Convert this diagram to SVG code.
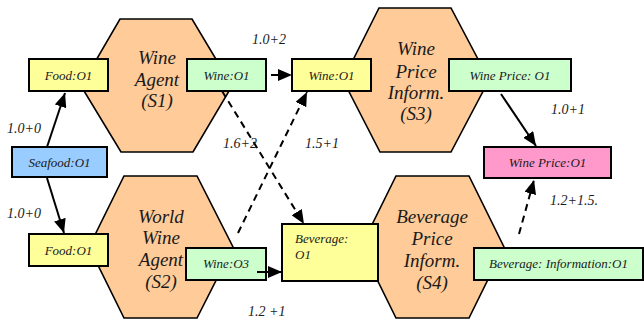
<svg xmlns="http://www.w3.org/2000/svg" width="644" height="320" viewBox="0 0 644 320">
<defs>
<style>
.hex{fill:#ffcc99;stroke:#000;stroke-width:1.6}
.box{stroke:#000;stroke-width:2}
.y{fill:#ffff99}.g{fill:#ccffcc}.b{fill:#99ccff}.p{fill:#ff99cc}
text{font-family:"Liberation Serif","Times New Roman",serif;font-style:italic;fill:#1a1a1a}
.ht{font-size:19px;text-anchor:middle}
.bt{font-size:13px;text-anchor:middle}
.el{font-size:14px}
.c{stroke:#000;stroke-width:2;fill:none}
.d{stroke-dasharray:7,5}
</style>
<marker id="ah" markerUnits="userSpaceOnUse" markerWidth="14" markerHeight="12" refX="14" refY="6" orient="auto">
<path d="M0,0 L14,6 L0,12 z" fill="#000"/>
</marker>
</defs>
<g id="S1">
<polygon class="hex" points="120,19 192,19 232,86 193,152 121,152 81,86"/>
<text class="ht" x="157" y="64">Wine</text>
<text class="ht" x="157" y="86">Agent</text>
<text class="ht" x="157" y="107">(S1)</text>
</g>
<g id="S3">
<polygon class="hex" points="379,8 451,8 489,80 451,152 380,152 343,80"/>
<text class="ht" x="416" y="55">Wine</text>
<text class="ht" x="416" y="78">Price</text>
<text class="ht" x="416" y="99">Inform.</text>
<text class="ht" x="416" y="120">(S3)</text>
</g>
<g id="S2">
<polygon class="hex" points="124,176 197,176 233,247 197,318 124,318 89,247"/>
<text class="ht" x="161" y="223">World</text>
<text class="ht" x="161" y="244">Wine</text>
<text class="ht" x="161" y="266">Agent</text>
<text class="ht" x="161" y="288">(S2)</text>
</g>
<g id="S4">
<polygon class="hex" points="396,176 469,176 504,247 469,318 396,318 361,247"/>
<text class="ht" x="432" y="223">Beverage</text>
<text class="ht" x="432" y="245">Price</text>
<text class="ht" x="432" y="267">Inform.</text>
<text class="ht" x="432" y="289">(S4)</text>
</g>
<g id="food1">
<rect class="box y" x="29" y="59" width="79" height="32"/>
<text class="bt" x="68.5" y="80">Food:O1</text>
</g>
<g id="wine1out">
<rect class="box g" x="187" y="59" width="79" height="32"/>
<text class="bt" x="226.5" y="80">Wine:O1</text>
</g>
<g id="wine1in">
<rect class="box y" x="292" y="59" width="79" height="32"/>
<text class="bt" x="331.5" y="80">Wine:O1</text>
</g>
<g id="wineprice">
<rect class="box g" x="449" y="59" width="122" height="32"/>
<text class="bt" x="510" y="80">Wine Price: O1</text>
</g>
<g id="winepricepink">
<rect class="box p" x="484" y="147" width="127" height="31"/>
<text class="bt" x="547.5" y="167">Wine Price:O1</text>
</g>
<g id="seafood">
<rect class="box b" x="12" y="147" width="95" height="30"/>
<text class="bt" x="59.5" y="167">Seafood:O1</text>
</g>
<g id="food2">
<rect class="box y" x="29" y="234" width="79" height="32"/>
<text class="bt" x="68.5" y="255">Food:O1</text>
</g>
<g id="wine3">
<rect class="box g" x="186" y="248" width="80" height="32"/>
<text class="bt" x="226" y="268">Wine:O3</text>
</g>
<g id="beverage">
<rect class="box y" x="282" y="224" width="96" height="57"/>
<text style="font-size:13px" x="295" y="243">Beverage:</text>
<text style="font-size:13px" x="295" y="259">O1</text>
</g>
<g id="bevinfo">
<rect class="box g" x="474" y="248" width="169" height="32"/>
<text class="bt" x="558.5" y="268">Beverage: Information:O1</text>
</g>
<g id="connectors">
<line class="c" x1="47" y1="147" x2="65" y2="93" marker-end="url(#ah)"/>
<line class="c" x1="47" y1="178" x2="64" y2="233" marker-end="url(#ah)"/>
<line class="c d" x1="266" y1="75" x2="292" y2="75" stroke-dashoffset="7" marker-end="url(#ah)"/>
<line class="c d" x1="222" y1="91" x2="304" y2="224" marker-end="url(#ah)"/>
<line class="c d" x1="238" y1="233" x2="307" y2="92" marker-end="url(#ah)"/>
<line class="c" x1="257" y1="272" x2="282" y2="272" marker-end="url(#ah)"/>
<line class="c" x1="501" y1="94" x2="536" y2="146" marker-end="url(#ah)"/>
<line class="c d" x1="519" y1="234" x2="534" y2="180" marker-end="url(#ah)"/>
<text class="el" x="7" y="133">1.0+0</text>
<text class="el" x="7" y="218">1.0+0</text>
<text class="el" x="252" y="44">1.0+2</text>
<text class="el" x="223" y="148">1.6+2</text>
<text class="el" x="305" y="148">1.5+1</text>
<text class="el" x="248" y="316">1.2 +1</text>
<text class="el" x="551" y="114">1.0+1</text>
<text class="el" x="550" y="205">1.2+1.5.</text>
</g>
</svg>
